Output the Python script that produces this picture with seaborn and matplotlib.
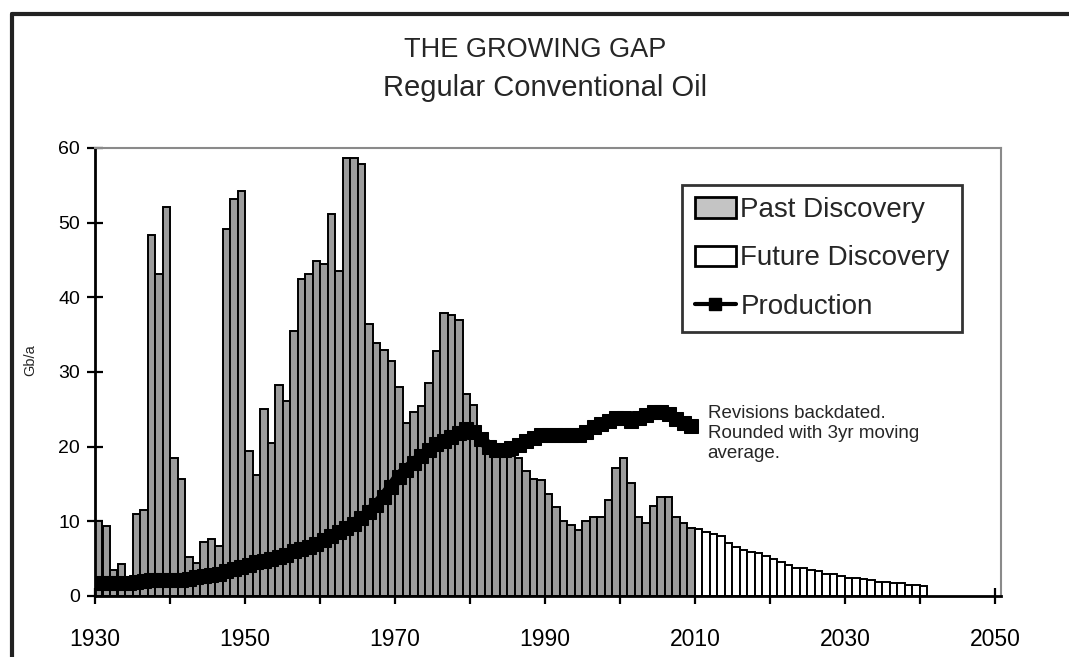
import numpy as np
import pandas as pd
import matplotlib
matplotlib.use("Agg")
import matplotlib.pyplot as plt
from matplotlib.patches import Patch
from matplotlib.lines import Line2D
import seaborn as sns

# ---------------- data ----------------
past_years = list(range(1930, 2010))
past_discovery = [
    10.0, 9.4, 3.5, 4.3, 1.5, 11.0, 11.5, 48.3, 43.1, 52.1,
    18.5, 15.7, 5.2, 4.4, 7.2, 7.7, 6.7, 49.2, 53.2, 54.3,
    19.4, 16.2, 25.1, 20.5, 28.3, 26.1, 35.5, 42.5, 43.1, 44.9,
    44.4, 51.1, 43.5, 58.6, 58.6, 57.9, 36.4, 33.9, 33.0, 31.5,
    28.0, 23.2, 24.7, 25.4, 28.5, 32.8, 37.9, 37.6, 37.0, 27.0,
    25.6, 21.0, 19.5, 19.0, 18.8, 18.8, 18.5, 16.7, 15.7, 15.5,
    13.6, 11.9, 10.0, 9.5, 8.9, 10.0, 10.6, 10.6, 12.9, 17.1,
    18.5, 15.2, 10.6, 9.8, 12.0, 13.3, 13.3, 10.6, 9.8, 9.1,
]
future_years = list(range(2010, 2041))
future_discovery = [
    9.0, 8.6, 8.3, 8.0, 7.1, 6.6, 6.2, 5.9, 5.7, 5.3,
    4.9, 4.6, 4.2, 3.8, 3.7, 3.5, 3.3, 3.0, 3.0, 2.7,
    2.4, 2.4, 2.3, 2.2, 1.9, 1.9, 1.8, 1.7, 1.5, 1.5, 1.4,
]
prod_years = list(range(1930, 2010))
production = [
    1.7, 1.8, 1.7, 1.7, 1.8, 1.9, 2.0, 2.1, 2.1, 2.1,
    2.1, 2.2, 2.3, 2.5, 2.7, 2.8, 3.0, 3.3, 3.6, 3.9,
    4.2, 4.5, 4.7, 4.9, 5.2, 5.5, 6.0, 6.3, 6.6, 7.0,
    7.5, 8.0, 8.6, 9.1, 9.7, 10.4, 11.2, 12.2, 13.3, 14.6,
    16.0, 16.9, 17.8, 18.7, 19.5, 20.3, 20.8, 21.3, 21.8, 22.3,
    22.0, 21.0, 20.0, 19.6, 19.6, 19.8, 20.2, 20.7, 21.2, 21.6,
    21.6, 21.6, 21.6, 21.5, 21.5, 22.0, 22.6, 23.1, 23.5, 23.8,
    23.8, 23.4, 23.8, 24.3, 24.7, 24.6, 24.4, 23.7, 23.2, 22.8,
]
x_ticks = list(range(1930, 2051, 10))
x_labels = ["1930", "", "1950", "", "1970", "", "1990", "", "2010", "", "2030", "", "2050"]
y_ticks = [0, 10, 20, 30, 40, 50, 60]
title = "THE GROWING GAP"
subtitle = "Regular Conventional Oil"
note = "Revisions backdated.\nRounded with 3yr moving\naverage."
legend_labels = ["Past Discovery", "Future Discovery", "Production"]

# ---------------- style ----------------
sns.set_style("white")
plt.rcParams["font.family"] = ["Liberation Sans", "DejaVu Sans"]

fig = plt.figure(figsize=(10.69, 6.57), dpi=100)
ax = fig.add_axes([95 / 1069, 1 - 596 / 657, (1001 - 95) / 1069, (596 - 148) / 657])

past_df = pd.DataFrame({"pos": np.array(past_years) + 0.5, "value": past_discovery})
future_df = pd.DataFrame({"pos": np.array(future_years) + 0.5, "value": future_discovery})
prod_df = pd.DataFrame({"pos": np.array(prod_years) + 0.5, "value": production})

past_col = "#9c9c9c"
sns.barplot(data=past_df, x="pos", y="value", native_scale=True, width=1.0,
            color=past_col, saturation=1, edgecolor="black", linewidth=1.4,
            errorbar=None, ax=ax)
sns.barplot(data=future_df, x="pos", y="value", native_scale=True, width=1.0,
            color="white", saturation=1, edgecolor="black", linewidth=1.4,
            errorbar=None, ax=ax)
sns.lineplot(data=prod_df, x="pos", y="value", color="black", linewidth=8,
             marker="s", markersize=10, markeredgecolor="black", ax=ax)

ax.set_xlim(1930, 2050.8)
ax.set_ylim(0, 60)
ax.set_xticks(x_ticks)
ax.set_xticklabels(x_labels)
ax.set_yticks(y_ticks)
ax.set_xlabel("")
ax.set_ylabel("Gb/a", fontsize=10.5)
ax.yaxis.set_label_coords(-0.064, 0.527)
ax.tick_params(axis="both", direction="inout", length=11.5, width=1.6, colors="black",
               bottom=True, left=True, top=False, right=False)
ax.tick_params(axis="x", labelsize=16.5, pad=17)
ax.tick_params(axis="y", labelsize=14, pad=5)

for side in ["left", "bottom"]:
    ax.spines[side].set_color("black")
    ax.spines[side].set_linewidth(2)
for side in ["top", "right"]:
    ax.spines[side].set_color("#8a8a8a")
    ax.spines[side].set_linewidth(1.5)
    ax.spines[side].set_visible(True)

handles = [
    Patch(facecolor="#c4c4c4", edgecolor="black", linewidth=2),
    Patch(facecolor="white", edgecolor="black", linewidth=2),
    Line2D([0], [0], color="black", linewidth=3, marker="s", markersize=9),
]
leg = ax.legend(handles, legend_labels, loc="upper left", bbox_to_anchor=(0.648, 0.918),
                fontsize=20, frameon=True, fancybox=False, edgecolor="black",
                handlelength=1.5, handleheight=0.75, handletextpad=0.15,
                labelspacing=0.8, borderpad=0.45, borderaxespad=0)
leg.get_frame().set_linewidth(2)

ax.text(2011.7, 25.6, note, fontsize=13.5, va="top", ha="left", linespacing=1.25)

fig.text(535 / 1069, 1 - 50 / 657, title, fontsize=19.5, ha="center", va="center")
fig.text(545 / 1069, 1 - 88 / 657, subtitle, fontsize=21, ha="center", va="center")

# outer frame
fig.add_artist(Line2D([12 / 1069, 12 / 1069], [0, 1 - 14 / 657], transform=fig.transFigure,
                      color="#222222", linewidth=3))
fig.add_artist(Line2D([12 / 1069, 1], [1 - 14 / 657, 1 - 14 / 657], transform=fig.transFigure,
                      color="#222222", linewidth=3))

fig.savefig("out.png", dpi=100)
